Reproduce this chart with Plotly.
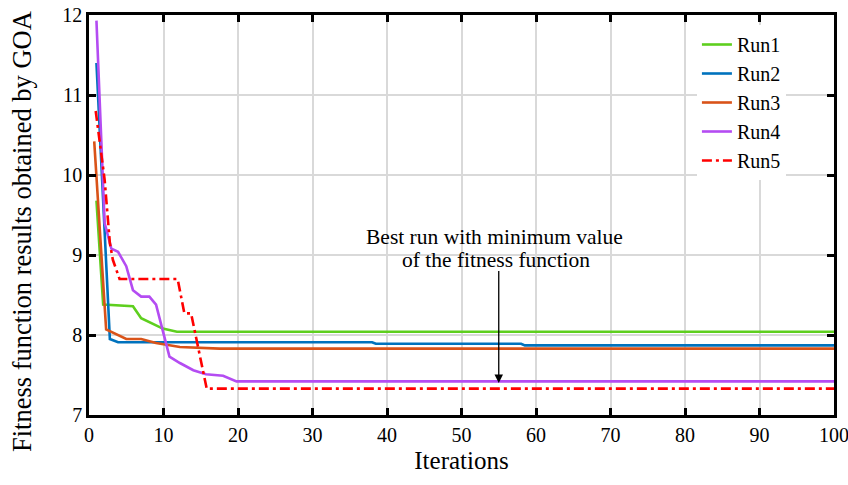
import plotly.graph_objects as go

run1_x = [1, 1.9, 5.9, 7.0, 9.9, 11.8, 100]
run1_y = [9.68, 8.38, 8.36, 8.21, 8.08, 8.04, 8.04]

run2_x = [1, 2.8, 3.9, 38, 38.5, 58, 58.5, 100]
run2_y = [11.4, 7.95, 7.91, 7.91, 7.89, 7.89, 7.87, 7.87]

run3_x = [0.7, 2.3, 5.0, 7.0, 9.0, 12.2, 17.5, 100]
run3_y = [10.42, 8.07, 7.95, 7.95, 7.9, 7.85, 7.83, 7.83]

run4_x = [1, 2.1, 3.0, 3.9, 5.0, 5.9, 7.0, 8.1, 9.0, 10.8, 12.2, 14.0, 15.7, 18.0, 19.8, 100]
run4_y = [11.93, 9.4, 9.08, 9.04, 8.86, 8.56, 8.48, 8.48, 8.38, 7.73, 7.65, 7.56, 7.51, 7.49, 7.42, 7.42]

run5_x = [0.9, 2.1, 2.8, 3.2, 4.1, 11.9, 12.8, 13.7, 15.8, 100]
run5_y = [10.8, 9.94, 9.15, 8.94, 8.70, 8.70, 8.27, 8.27, 7.33, 7.33]

names = ["Run1", "Run2", "Run3", "Run4", "Run5"]
colors = ["#5ECF1E", "#0072BD", "#D95319", "#B44CF2", "#FF0000"]
dashes = ["solid", "solid", "solid", "solid", "10px,4px,3px,4px"]
xs = [run1_x, run2_x, run3_x, run4_x, run5_x]
ys = [run1_y, run2_y, run3_y, run4_y, run5_y]

x_ticks = [0, 10, 20, 30, 40, 50, 60, 70, 80, 90, 100]
y_ticks = [7, 8, 9, 10, 11, 12]

x_title = "Iterations"
y_title = "Fitness function results obtained by GOA"
note_line1 = "Best run with minimum value"
note_line2 = "of the fitness function"

fig = go.Figure()
for n, c, d, x, y in zip(names, colors, dashes, xs, ys):
    fig.add_trace(go.Scatter(x=x, y=y, mode="lines", name=n,
                             line=dict(color=c, width=2.6, dash=d)))

font_family = "Liberation Serif"
axis_common = dict(
    showline=True, linecolor="black", linewidth=2.5, mirror="ticks",
    ticks="inside", ticklen=7, tickwidth=2.5, tickcolor="black",
    showgrid=True, gridcolor="#d9d9d9", gridwidth=2, zeroline=False,
    tickfont=dict(family=font_family, size=20, color="black"),
    ticklabeloverflow="allow", automargin=False,
)

fig.update_layout(
    width=848, height=485,
    margin=dict(l=89, r=14, t=15, b=70, autoexpand=False),
    plot_bgcolor="white", paper_bgcolor="white",
    font=dict(family=font_family, color="black"),
    xaxis=dict(range=[0, 100], tickvals=x_ticks,
               title=dict(text=x_title, font=dict(family=font_family, size=25), standoff=7),
               **axis_common),
    yaxis=dict(range=[7, 12], tickvals=y_ticks, **axis_common),
    legend=dict(x=0.816, y=0.975, xanchor="left", yanchor="top",
                bgcolor="white", borderwidth=0,
                font=dict(family=font_family, size=20, color="black"),
                itemwidth=30, tracegroupgap=0),
    showlegend=True,
)

fig.add_annotation(x=0, y=0.4575, xref="paper", yref="paper", xshift=-67,
                   text=y_title, textangle=-90, showarrow=False,
                   xanchor="center", yanchor="middle",
                   font=dict(family=font_family, size=26.5, color="black"))

fig.add_annotation(x=55, y=7.4, ax=55, ay=8.82, xref="x", yref="y", axref="x", ayref="y",
                   text="", showarrow=True, arrowhead=2, arrowsize=1.3, arrowwidth=1.3, arrowcolor="black")
fig.add_annotation(x=54.4, y=9.22, xref="x", yref="y", text=note_line1,
                   showarrow=False, font=dict(family=font_family, size=21.5, color="black"))
fig.add_annotation(x=54.6, y=8.94, xref="x", yref="y", text=note_line2,
                   showarrow=False, font=dict(family=font_family, size=21.5, color="black"))

fig.write_html("out.html")
